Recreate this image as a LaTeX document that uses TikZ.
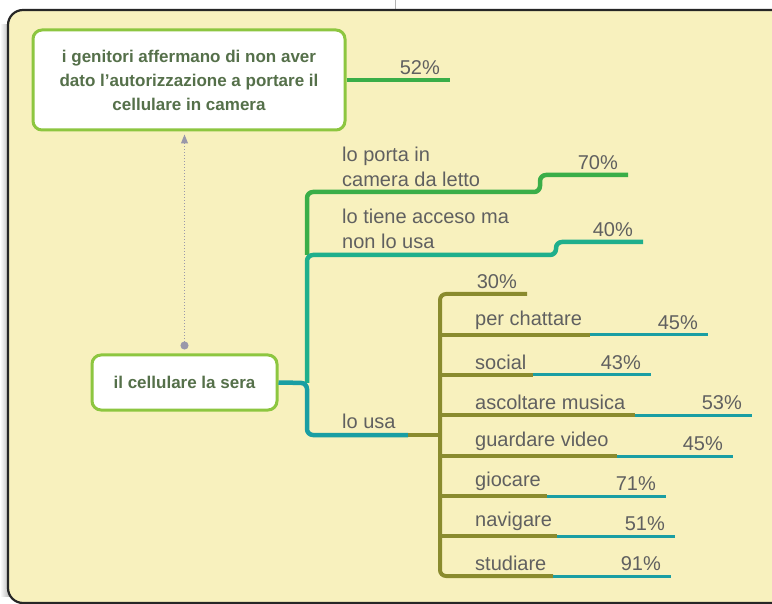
\documentclass[tikz,border=0pt]{standalone}
\usepackage{fontspec}
\setmainfont{Liberation Sans}
\usetikzlibrary{arrows.meta}
\definecolor{cream}{HTML}{F8F1BE}
\definecolor{nodegreen}{HTML}{8DC640}
\definecolor{nodetext}{HTML}{55704A}
\definecolor{labelgrey}{HTML}{606060}
\definecolor{leafgreen}{HTML}{3AAE48}
\definecolor{seagreen}{HTML}{1FAF8C}
\definecolor{seateal}{HTML}{1A9EA3}
\definecolor{olivebar}{HTML}{8A8B2E}
\definecolor{linkgrey}{HTML}{9A98AA}
\tikzset{
  box/.style={draw=nodegreen, line width=3pt, fill=white, rounded corners=9pt,
    text=nodetext, font=\fontsize{17}{24}\selectfont\bfseries, align=center},
  lbl/.style={anchor=south west, inner sep=0pt, text=labelgrey,
    font=\fontsize{20}{25}\selectfont, align=left},
  pct/.style={anchor=south east, inner sep=0pt, text=labelgrey,
    font=\fontsize{20}{25}\selectfont},
  branch/.style={line width=4.5pt, rounded corners=6pt},
  twig/.style={line width=4pt, olivebar, rounded corners=6pt},
  tip/.style={line width=3pt, seateal},
}
\begin{document}
\begin{tikzpicture}[x=1pt,y=-1pt]
    \useasboundingbox (0,0) rectangle (772,604);
    % background frame
    \fill [white] (0,0) rectangle (772,604);
    \draw [gray!60] (395,0) -- (395,10);
    \shade [left color=white, right color=gray!60] (0,25) rectangle (10,596);
    \draw [fill=cream, line width=2.2pt, draw=black!85, rounded corners=15pt] (8,10) rectangle (790,603);

    % the two main nodes
    \node [box, minimum width=312pt, minimum height=100pt] (gen) at (189,80)
        {i genitori affermano di non aver\\dato l'autorizzazione a portare il\\cellulare in camera};
    \node [box, minimum width=185pt, minimum height=55pt] (cell) at (184.5,382.5) {il cellulare la sera};
    \draw [linkgrey, line width=1pt, dotted, {Circle[length=8pt,width=8pt]}-{Triangle[length=9pt,width=7pt]},
        shorten <=4pt, shorten >=3pt] (cell.north) -- (cell.north |- gen.south);

    % 52%
    \coordinate (gen1) at (450,80);
    \draw [branch, leafgreen] (gen.east) -- (gen1);
    \node [pct] (p52) at ([shift={(-10,-5)}]gen1) {52\%};

    % first level branches
    \coordinate (sp0) at (307,383);
    \coordinate (sp1) at (307,255);
    \coordinate (sp2) at (307,192);
    \coordinate (sp3) at (307,435);
    \coordinate (porta1) at (540,192);
    \coordinate (porta2) at (540,175);
    \coordinate (porta3) at (628,175);
    \coordinate (tiene1) at (556,255);
    \coordinate (tiene2) at (556,242);
    \coordinate (tiene3) at (643,242);
    \coordinate (usa1) at (408,435);
    \coordinate (usa2) at (440,435);
    \draw [branch, leafgreen] (sp1) -- (sp2) -- (porta1) -- (porta2) -- (porta3);
    \draw [branch, seagreen] (sp0) -- (sp1) -- (tiene1) -- (tiene2) -- (tiene3);
    \draw [branch, seateal] (cell.east) -- (sp0) -- (sp3) -- (usa1);
    \draw [twig] (usa1) -- (usa2);
    \node [lbl] (porta) at (342,187) {lo porta in\\camera da letto};
    \node [pct] (p70) at ([shift={(-10,-5)}]porta3) {70\%};
    \node [lbl] (tiene) at (342,249) {lo tiene acceso ma\\non lo usa};
    \node [pct] (p40) at ([shift={(-10,-5)}]tiene3) {40\%};
    \node [lbl] (usa) at (342,429) {lo usa};

    % second level: olive spine
    \coordinate (top0) at (440,294);
    \coordinate (top1) at (527,294);
    \coordinate (stud0) at (440,576);
    \coordinate (stud1) at (553,576);
    \coordinate (stud2) at (671,576);
    \draw [twig] (top1) -- (top0) -- (stud0) -- (stud1);
    \draw [tip] (stud1) -- (stud2);
    \node [pct] (p30) at ([shift={(-10,-5)}]top1) {30\%};
    \node [lbl] (stud) at (475,571) {studiare};
    \node [pct] (p91) at ([shift={(-10,-5)}]stud2) {91\%};

    \coordinate (chat0) at (440,335);
    \coordinate (chat1) at (590,335);
    \coordinate (chat2) at (708,335);
    \draw [twig] (chat0) -- (chat1);
    \draw [tip] (chat1) -- (chat2);
    \node [lbl] (chat) at (475,330) {per chattare};
    \node [pct] (p45a) at ([shift={(-10,-5)}]chat2) {45\%};

    \coordinate (soc0) at (440,375);
    \coordinate (soc1) at (533,375);
    \coordinate (soc2) at (651,375);
    \draw [twig] (soc0) -- (soc1);
    \draw [tip] (soc1) -- (soc2);
    \node [lbl] (soc) at (475,370) {social};
    \node [pct] (p43) at ([shift={(-10,-5)}]soc2) {43\%};

    \coordinate (mus0) at (440,415);
    \coordinate (mus1) at (635,415);
    \coordinate (mus2) at (752,415);
    \draw [twig] (mus0) -- (mus1);
    \draw [tip] (mus1) -- (mus2);
    \node [lbl] (mus) at (475,410) {ascoltare musica};
    \node [pct] (p53) at ([shift={(-10,-5)}]mus2) {53\%};

    \coordinate (vid0) at (440,456);
    \coordinate (vid1) at (617,456);
    \coordinate (vid2) at (733,456);
    \draw [twig] (vid0) -- (vid1);
    \draw [tip] (vid1) -- (vid2);
    \node [lbl] (vid) at (475,451) {guardare video};
    \node [pct] (p45b) at ([shift={(-10,-5)}]vid2) {45\%};

    \coordinate (gio0) at (440,496);
    \coordinate (gio1) at (547,496);
    \coordinate (gio2) at (666,496);
    \draw [twig] (gio0) -- (gio1);
    \draw [tip] (gio1) -- (gio2);
    \node [lbl] (gio) at (475,491) {giocare};
    \node [pct] (p71) at ([shift={(-10,-5)}]gio2) {71\%};

    \coordinate (nav0) at (440,536);
    \coordinate (nav1) at (557,536);
    \coordinate (nav2) at (675,536);
    \draw [twig] (nav0) -- (nav1);
    \draw [tip] (nav1) -- (nav2);
    \node [lbl] (nav) at (475,531) {navigare};
    \node [pct] (p51) at ([shift={(-10,-5)}]nav2) {51\%};
\end{tikzpicture}
\end{document}
